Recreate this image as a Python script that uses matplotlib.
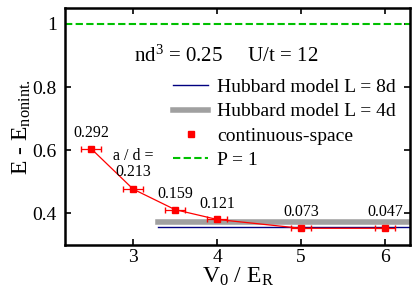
import matplotlib
matplotlib.use('Agg')
import matplotlib.pyplot as plt
from matplotlib.lines import Line2D

# data
V0 = [2.5, 3.0, 3.5, 4.0, 5.0, 6.0]
E = [0.605, 0.477, 0.412, 0.381, 0.353, 0.353]
xerr = [0.12, 0.12, 0.12, 0.12, 0.12, 0.12]
a_over_d = ['0.292', 'a / d =\n0.213', '0.159', '0.121', '0.073', '0.047']
hub_x = [3.3, 6.3]
hub_8d = 0.357
hub_4d = 0.373
P1 = 1.0

plt.rcParams['font.family'] = ['Liberation Serif', 'DejaVu Serif']
plt.rcParams['mathtext.fontset'] = 'custom'
plt.rcParams['mathtext.rm'] = 'Liberation Serif'
plt.rcParams['mathtext.it'] = 'Liberation Serif'

fig = plt.figure(figsize=(4.15, 2.91), dpi=100)
ax = fig.add_axes([0.157, 0.158, 0.831, 0.814])

l8, = ax.plot(hub_x, [hub_8d, hub_8d], color='#000080', lw=1.0)
l4, = ax.plot(hub_x, [hub_4d, hub_4d], color='#a0a0a0', lw=4)
ax.plot(V0, E, color='red', lw=0.9)
ax.errorbar(V0, E, xerr=xerr, fmt='s', color='red', ms=5, elinewidth=0.9, capsize=2)
lp = ax.axhline(P1, color='#00c000', ls='--', lw=1.5, dashes=(3.5, 1.6))
cs = Line2D([], [], ls='none', marker='s', color='red', ms=5)

offs = [0.025, 0.03, 0.025, 0.025, 0.025, 0.025]
for x, y, t, o in zip(V0, E, a_over_d, offs):
    ax.text(x, y + o, t, ha='center', va='bottom', fontsize=11.5, linespacing=0.95)

ax.text(0.468, 0.772, 'nd$^3$ = 0.25     U/t = 12', transform=ax.transAxes,
        ha='center', va='baseline', fontsize=15)

ax.set_xlim(2.19, 6.3)
ax.set_ylim(0.3, 1.05)
ax.set_xticks([3, 4, 5, 6])
ax.set_yticks([0.4, 0.6, 0.8, 1.0])
ax.set_yticklabels(['0.4', '0.6', '0.8', '1'])
ax.tick_params(direction='in', top=True, right=True, labelsize=14, length=4, width=1.2)
ax.tick_params(axis='y', pad=6)
ax.tick_params(axis='x', pad=3)
for s in ax.spines.values():
    s.set_linewidth(1.8)

ax.set_xlabel('V$_0$ / E$_\\mathregular{R}$', fontsize=17, labelpad=0)
ax.set_ylabel('E - E$_\\mathregular{nonint.}$', fontsize=17, labelpad=0)

ax.legend([l8, l4, cs, lp],
          ['Hubbard model L = 8d', 'Hubbard model L = 4d', 'continuous-space', 'P = 1'],
          loc='upper left', bbox_to_anchor=(0.313, 0.703), frameon=False,
          fontsize=14, handlelength=1.8, handletextpad=0.46, labelspacing=0.34,
          borderpad=0, borderaxespad=0)

plt.savefig('out.png', dpi=100)
